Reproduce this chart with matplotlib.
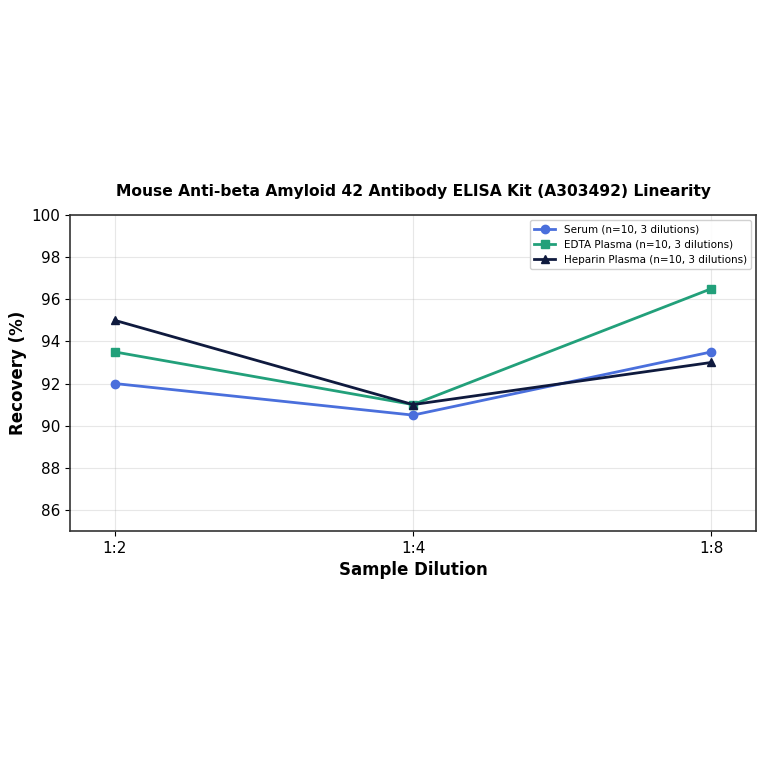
import numpy as np
import matplotlib.pyplot as plt

dilutions = ["1:2", "1:4", "1:8"]
serum = [92.0, 90.5, 93.5]
edta = [93.5, 91.0, 96.5]
heparin = [95.0, 91.0, 93.0]

series = [
    ("Serum (n=10, 3 dilutions)", serum, "#4a6fdc", "o"),
    ("EDTA Plasma (n=10, 3 dilutions)", edta, "#22a07a", "s"),
    ("Heparin Plasma (n=10, 3 dilutions)", heparin, "#0f1a3e", "^"),
]

fig = plt.figure(figsize=(7.64, 7.64), dpi=100)
ax = fig.add_axes([0.0916, 0.305, 0.898, 0.4136])

x = np.arange(len(dilutions))
for label, vals, color, marker in series:
    ax.plot(x, vals, color=color, marker=marker, markersize=6,
            linewidth=2, label=label)

ax.set_xticks(x)
ax.set_xticklabels(dilutions)
ax.set_xlim(-0.15, 2.15)
ax.set_ylim(85, 100)
ax.set_yticks(np.arange(86, 101, 2))
ax.tick_params(labelsize=11)

ax.set_xlabel("Sample Dilution", fontsize=12, fontweight="bold")
ax.set_ylabel("Recovery (%)", fontsize=12, fontweight="bold", labelpad=3)
ax.set_title("Mouse Anti-beta Amyloid 42 Antibody ELISA Kit (A303492) Linearity",
             fontsize=11.2, fontweight="bold", pad=14)

ax.grid(alpha=0.3)
for sp in ax.spines.values():
    sp.set_color("#333333")
    sp.set_linewidth(1.2)

ax.legend(loc="upper right", fontsize=7.5, framealpha=0.9)

fig.savefig("out.png", dpi=100)
